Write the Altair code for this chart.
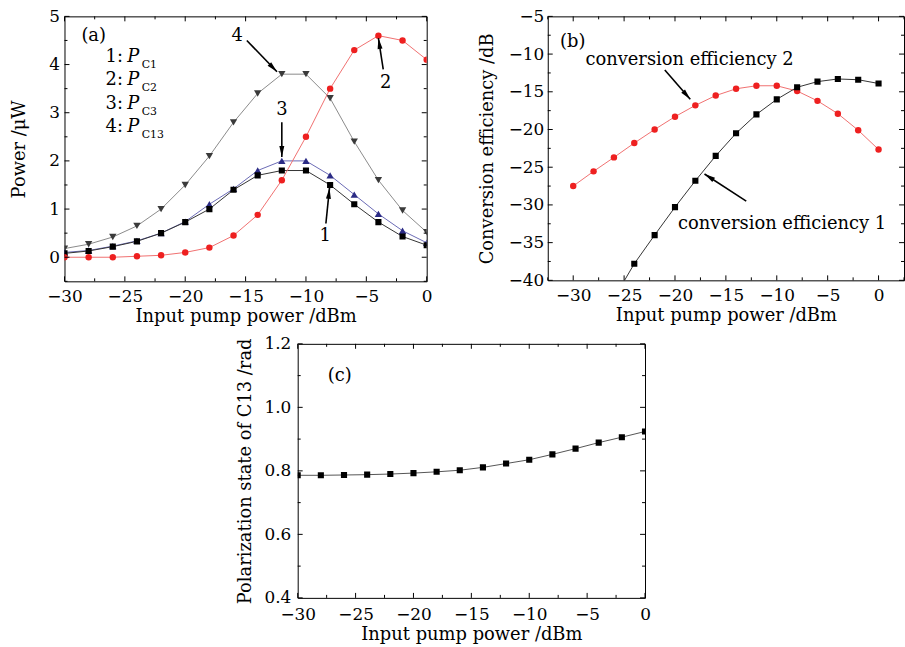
import math
import altair as alt
import pandas as pd

# ---------------- data ----------------
pump_dbm = [-30, -28, -26, -24, -22, -20, -18, -16, -14, -12, -10, -8, -6, -4, -2, 0]
p_c1 = [0.08, 0.13, 0.22, 0.33, 0.50, 0.73, 1.00, 1.40, 1.70, 1.80, 1.80, 1.50, 1.10, 0.73, 0.43, 0.25]
p_c2 = [0.00, 0.00, 0.00, 0.02, 0.04, 0.10, 0.20, 0.45, 0.88, 1.60, 2.50, 3.50, 4.30, 4.60, 4.50, 4.10]
p_c3 = [0.10, 0.14, 0.23, 0.34, 0.50, 0.74, 1.10, 1.42, 1.80, 2.00, 2.00, 1.70, 1.30, 0.90, 0.55, 0.30]
p_c13 = [0.18, 0.27, 0.42, 0.65, 1.00, 1.50, 2.10, 2.80, 3.40, 3.80, 3.80, 3.30, 2.40, 1.60, 0.97, 0.52]

ce1_dbm = [-26, -24, -22, -20, -18, -16, -14, -12, -10, -8, -6, -4, -2, 0]
ce1 = [-42.4, -37.8, -34.0, -30.3, -26.8, -23.5, -20.5, -18.0, -16.0, -14.4, -13.65, -13.3, -13.4, -13.9]
ce2 = [-27.5, -25.55, -23.7, -21.8, -20.0, -18.3, -16.8, -15.5, -14.6, -14.2, -14.2, -14.9, -16.2, -17.9, -20.1, -22.65]

pol_c13 = [0.786, 0.786, 0.787, 0.788, 0.790, 0.793, 0.797, 0.802, 0.811, 0.823, 0.835, 0.852, 0.870, 0.889, 0.906, 0.924]

x_major = [-30, -25, -20, -15, -10, -5, 0]
x_minor = [-27.5, -22.5, -17.5, -12.5, -7.5, -2.5]
xb_minor = [-32.5, -27.5, -22.5, -17.5, -12.5, -7.5, -2.5, 2.5]
ya_major = [0, 1, 2, 3, 4, 5]
ya_minor = [-0.5, 0.5, 1.5, 2.5, 3.5, 4.5]
yb_major = [-40, -35, -30, -25, -20, -15, -10, -5]
yb_minor = [-37.5, -32.5, -27.5, -22.5, -17.5, -12.5, -7.5]
yc_major = [0.4, 0.6, 0.8, 1.0, 1.2]
yc_minor = [0.5, 0.7, 0.9, 1.1]

X_TITLE = "Input pump power /dBm"
FONT = "DejaVu Serif"


# ---------------- helpers ----------------
class Panel:
    def __init__(self, xd, yd, W, H, ytitle, yvals, yfmt, ylp, ytp, xlp=7, xtp=3):
        self.xd, self.yd, self.W, self.H = xd, yd, W, H
        self.xs = alt.Scale(domain=xd, nice=False, zero=False)
        self.ys = alt.Scale(domain=yd, nice=False, zero=False)
        self.xax = alt.Axis(values=x_major, format="d", labelPadding=xlp, titlePadding=xtp,
                            tickSize=0, labelFlush=False, labelOverlap=False)
        self.yax = alt.Axis(values=yvals, format=yfmt, labelPadding=ylp, titlePadding=ytp,
                            tickSize=0, labelFlush=False, labelOverlap=False)
        self.ytitle = ytitle
        self.layers = []

    def X(self):
        return alt.X("x:Q", scale=self.xs, axis=self.xax, title=X_TITLE)

    def Y(self):
        return alt.Y("y:Q", scale=self.ys, axis=self.yax, title=self.ytitle)

    def series(self, xv, yv, line_color, pt_color, shape, size, clip=False):
        df = pd.DataFrame({"x": xv, "y": yv})
        self.layers.append(alt.Chart(df).mark_line(color=line_color, strokeWidth=1, clip=clip)
                           .encode(x=self.X(), y=self.Y()))
        self.layers.append(alt.Chart(df).mark_point(shape=shape, filled=True, color=pt_color,
                                                    opacity=1, size=size, clip=True)
                           .encode(x=self.X(), y=self.Y()))

    def ticks(self, xmaj, xmin, ymaj, ymin):
        W, H = self.W, self.H
        for vals, L in ((xmaj, 5), (xmin, 3)):
            base = alt.Chart(pd.DataFrame({"x": vals})).mark_rule(color="black", strokeWidth=1)
            self.layers.append(base.encode(x=self.X(), y=alt.value(H), y2=alt.value(H - L)))
            self.layers.append(base.encode(x=self.X(), y=alt.value(0), y2=alt.value(L)))
        for vals, L in ((ymaj, 5), (ymin, 3)):
            base = alt.Chart(pd.DataFrame({"y": vals})).mark_rule(color="black", strokeWidth=1)
            self.layers.append(base.encode(y=self.Y(), x=alt.value(0), x2=alt.value(L)))
            self.layers.append(base.encode(y=self.Y(), x=alt.value(W), x2=alt.value(W - L)))

    def texts(self, rows, size=18, style="normal", align="left", dy=0):
        df = pd.DataFrame(rows, columns=["x", "y", "t"])
        self.layers.append(alt.Chart(df).mark_text(
            font=FONT, fontSize=size, fontStyle=style, align=align, baseline="middle",
            color="black", dy=dy).encode(x=self.X(), y=self.Y(), text="t:N"))

    def arrow(self, x1, y1, x2, y2):
        df = pd.DataFrame({"x": [x1, x2], "y": [y1, y2]})
        self.layers.append(alt.Chart(df).mark_line(color="black", strokeWidth=1.6)
                           .encode(x=self.X(), y=self.Y()))
        dxp = (x2 - x1) * self.W / (self.xd[1] - self.xd[0])
        dyp = -(y2 - y1) * self.H / (self.yd[1] - self.yd[0])
        ang = math.degrees(math.atan2(dxp, -dyp)) % 360
        self.layers.append(alt.Chart(pd.DataFrame({"x": [x2], "y": [y2]})).mark_point(
            shape="M0,0L0.5,2.2L-0.5,2.2Z", filled=True, color="black", opacity=1,
            size=100, angle=ang).encode(x=self.X(), y=self.Y()))

    def chart(self):
        return alt.layer(*self.layers).properties(width=self.W, height=self.H)


# ---------------- panel (a) ----------------
pa = Panel([-30, 0], [-0.5, 5], 365, 267, "Power /μW", ya_major, "d", 5, 20)
pa.series(pump_dbm, p_c13, "#8a8a8a", "#3a3a3a", "triangle-down", 55)
pa.series(pump_dbm, p_c3, "#6a6ab4", "#2b2b85", "triangle-up", 55)
pa.series(pump_dbm, p_c1, "#333333", "#000000", "square", 38)
pa.series(pump_dbm, p_c2, "#f07070", "#ee2020", "circle", 42)
pa.ticks(x_major, x_minor, ya_major, ya_minor)
pa.texts([[-28.6, 4.6, "(a)"]])
pa.texts([[-26.6, 4.15, "1:"], [-26.6, 3.67, "2:"], [-26.6, 3.18, "3:"], [-26.6, 2.70, "4:"]])
pa.texts([[-24.8, 4.15, "P"], [-24.8, 3.67, "P"], [-24.8, 3.18, "P"], [-24.8, 2.70, "P"]],
         style="italic")
pa.texts([[-23.6, 4.15, "C1"], [-23.6, 3.67, "C2"], [-23.6, 3.18, "C3"], [-23.6, 2.70, "C13"]],
         size=11, dy=8)
pa.texts([[-15.7, 4.59, "4"], [-12.0, 3.06, "3"], [-8.4, 0.43, "1"], [-3.4, 3.62, "2"]],
         align="center")
pa.arrow(-14.9, 4.50, -12.4, 3.85)
pa.arrow(-12.0, 2.80, -12.0, 2.08)
pa.arrow(-8.35, 0.70, -8.05, 1.44)
pa.arrow(-3.6, 3.90, -4.0, 4.55)
panel_a = pa.chart()

# ---------------- panel (b) ----------------
pb = Panel([-32.5, 2.5], [-40, -5], 359, 266, "Conversion efficiency /dB", yb_major, "d", 4, 12)
pb.series(pump_dbm, ce2, "#f07070", "#ee2020", "circle", 42)
pb.series(ce1_dbm, ce1, "#333333", "#000000", "square", 38, clip=True)
pb.ticks(x_major, xb_minor, yb_major, yb_minor)
pb.texts([[-31.3, -8.4, "(b)"]])
pb.texts([[-28.8, -10.8, "conversion efficiency 2"], [-19.7, -32.5, "conversion efficiency 1"]],
         size=18)
pb.arrow(-21.0, -12.1, -18.5, -16.0)
pb.arrow(-13.0, -29.5, -17.1, -25.9)
panel_b = pb.chart()

# ---------------- panel (c) ----------------
pc = Panel([-30, 0], [0.4, 1.2], 350, 256, "Polarization state of C13 /rad", yc_major, ".1f", 7, 10,
           xlp=9, xtp=3)
pc.series(pump_dbm, pol_c13, "#555555", "#000000", "square", 38)
pc.ticks(x_major, x_minor, yc_major, yc_minor)
pc.texts([[-27.4, 1.10, "(c)"]])
panel_c = pc.chart()

spacer = alt.Chart(pd.DataFrame({"x": [0]})).mark_point(opacity=0).encode(
    x=alt.X("x:Q", axis=None), y=alt.Y("x:Q", axis=None)
).properties(width=171, height=10, view=alt.ViewBackground(stroke="transparent"))

chart = alt.vconcat(
    alt.hconcat(panel_a, panel_b, spacing=45),
    alt.hconcat(spacer, panel_c, spacing=0),
    spacing=8,
).properties(
    padding={"left": 10, "top": 4, "right": 0, "bottom": 0},
    background="white",
).configure_view(
    stroke="black", strokeWidth=1
).configure_axis(
    labelFont=FONT, labelFontSize=17, labelColor="black",
    titleFont=FONT, titleFontSize=18, titleFontWeight="normal", titleColor="black",
    domain=False, ticks=False, grid=False,
)

chart.save("out.html", embed_options={"renderer": "svg", "actions": False})
